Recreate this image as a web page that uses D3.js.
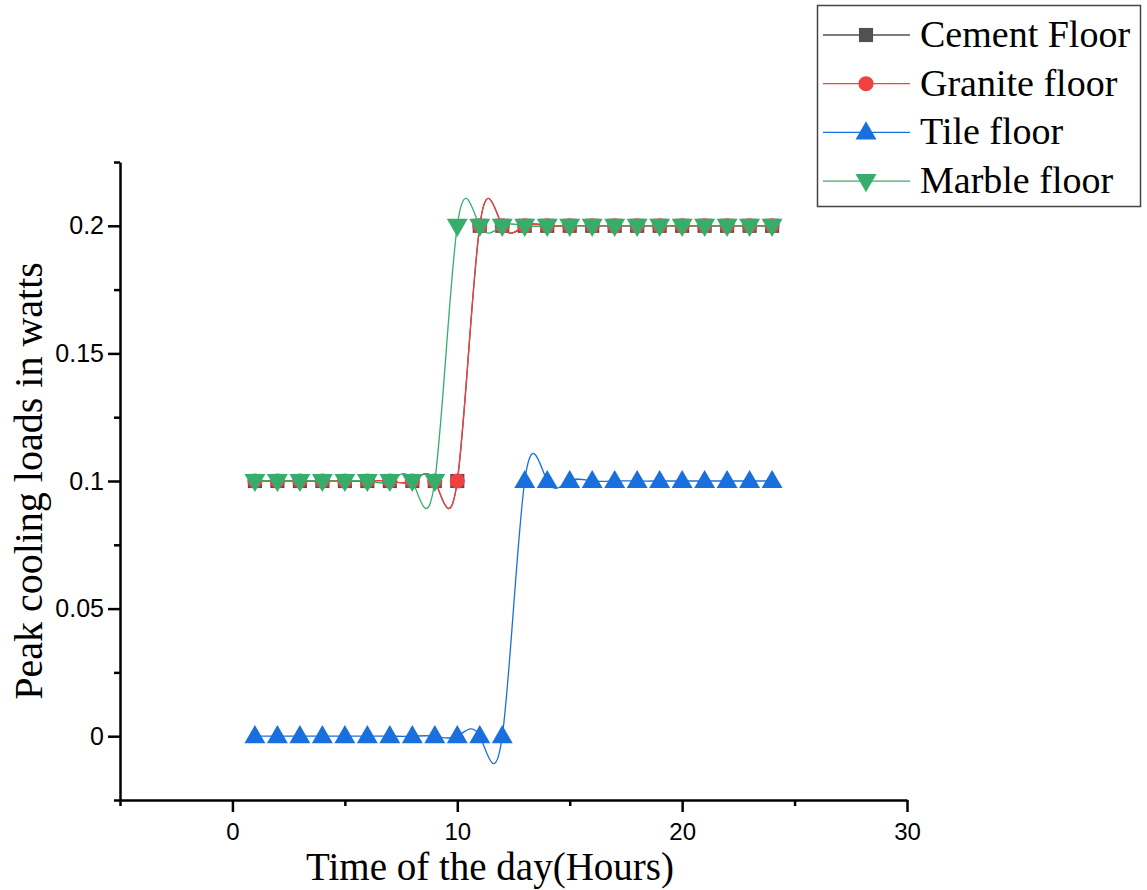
<!DOCTYPE html>
<html>
<head>
<meta charset="utf-8">
<script src="https://cdn.jsdelivr.net/npm/d3@7"></script>
<style>
  body { margin: 0; background: #fff; }
  svg { display: block; }
</style>
</head>
<body>
<div id="chart"></div>
<script>
// hours of the day
const hours = d3.range(1, 25);

const cementFloor  = [0.1, 0.1, 0.1, 0.1, 0.1, 0.1, 0.1, 0.1, 0.1, 0.1, 0.2, 0.2, 0.2, 0.2, 0.2, 0.2, 0.2, 0.2, 0.2, 0.2, 0.2, 0.2, 0.2, 0.2];
const graniteFloor = [0.1, 0.1, 0.1, 0.1, 0.1, 0.1, 0.1, 0.1, 0.1, 0.1, 0.2, 0.2, 0.2, 0.2, 0.2, 0.2, 0.2, 0.2, 0.2, 0.2, 0.2, 0.2, 0.2, 0.2];
const tileFloor    = [0, 0, 0, 0, 0, 0, 0, 0, 0, 0, 0, 0, 0.1, 0.1, 0.1, 0.1, 0.1, 0.1, 0.1, 0.1, 0.1, 0.1, 0.1, 0.1];
const marbleFloor  = [0.1, 0.1, 0.1, 0.1, 0.1, 0.1, 0.1, 0.1, 0.1, 0.2, 0.2, 0.2, 0.2, 0.2, 0.2, 0.2, 0.2, 0.2, 0.2, 0.2, 0.2, 0.2, 0.2, 0.2];

const seriesNames = ["Cement Floor", "Granite floor", "Tile floor", "Marble floor"];
const xTicks = [0, 10, 20, 30];
const yTicks = [0, 0.05, 0.1, 0.15, 0.2];
const yTickLabels = ["0", "0.05", "0.1", "0.15", "0.2"];

const series = [
  {name: seriesNames[0], values: cementFloor,  color: "#515151", symbol: d3.symbolSquare,   size: 200, rot: 0},
  {name: seriesNames[1], values: graniteFloor, color: "#F14040", symbol: d3.symbolCircle,   size: 180, rot: 0},
  {name: seriesNames[2], values: tileFloor,    color: "#1A6FDF", symbol: d3.symbolTriangle, size: 190, rot: 0},
  {name: seriesNames[3], values: marbleFloor,  color: "#37AD6B", symbol: d3.symbolTriangle, size: 190, rot: 180}
];

const width = 1147, height = 890;

const svg = d3.select("#chart")
  .append("svg")
    .attr("width", width)
    .attr("height", height);

const x = d3.scaleLinear()
  .domain([-5, 30])
  .range([120, 907]);

const y = d3.scaleLinear()
  .domain([-0.025, 0.225])
  .range([800, 162]);

// x axis
const xAxisG = svg.append("g")
  .attr("transform", "translate(0,800)")
  .call(d3.axisBottom(x).tickValues(xTicks).tickSize(12).tickSizeOuter(0).tickFormat(d3.format("d")))
  .attr("font-size", 24)
  .attr("font-family", "Liberation Sans, Arial, sans-serif");
svg.append("g")
  .attr("transform", "translate(0,800)")
  .call(d3.axisBottom(x).tickValues([-5, 5, 15, 25]).tickSize(6).tickSizeOuter(0).tickFormat(""))
  .select(".domain").remove();
xAxisG.selectAll("text")
  .attr("dy", null)
  .attr("y", 40)
  .attr("fill", "#000");

// y axis
const yAxisG = svg.append("g")
  .attr("transform", "translate(120,0)")
  .call(d3.axisLeft(y).tickValues(yTicks).tickSize(12).tickSizeOuter(0)
    .tickFormat((d, i) => yTickLabels[i]))
  .attr("font-size", 25)
  .attr("font-family", "Liberation Sans, Arial, sans-serif");
svg.append("g")
  .attr("transform", "translate(120,0)")
  .call(d3.axisLeft(y).tickValues([-0.025, 0.025, 0.075, 0.125, 0.175, 0.225]).tickSize(6).tickSizeOuter(0).tickFormat(""))
  .select(".domain").remove();
yAxisG.selectAll("text")
  .attr("x", -16)
  .attr("fill", "#000");

svg.selectAll(".domain, .tick line")
  .attr("stroke", "#000")
  .attr("stroke-width", 2.5);

// axis titles
svg.append("text")
  .attr("x", 490)
  .attr("y", 880)
  .attr("text-anchor", "middle")
  .style("font-family", "Liberation Serif, Times New Roman, serif")
  .style("font-size", "39px")
  .text("Time of the day(Hours)");

svg.append("text")
  .attr("transform", "translate(42,481) rotate(-90)")
  .attr("text-anchor", "middle")
  .style("font-family", "Liberation Serif, Times New Roman, serif")
  .style("font-size", "40px")
  .text("Peak cooling loads in watts");

// lines and symbols
const line = d3.line()
  .x(d => x(d.x))
  .y(d => y(d.y))
  .curve(d3.curveNatural);

series.forEach(s => {
  const pts = hours.map((h, i) => ({x: h, y: s.values[i]}));
  svg.append("path")
    .datum(pts)
    .attr("fill", "none")
    .attr("stroke", s.color)
    .attr("stroke-width", 1.3)
    .attr("d", line);
  svg.append("g")
    .selectAll("path")
    .data(pts)
    .enter()
    .append("path")
      .attr("d", d3.symbol().type(s.symbol).size(s.size))
      .attr("transform", d => "translate(" + x(d.x) + "," + (y(d.y) + (s.symbol === d3.symbolTriangle ? (s.rot ? -1 : 1) : 0)) + ") rotate(" + s.rot + ")")
      .attr("fill", s.color);
});

// legend
const legend = svg.append("g");
legend.append("rect")
  .attr("x", 817.5)
  .attr("y", 5.5)
  .attr("width", 323)
  .attr("height", 201)
  .attr("fill", "#fff")
  .attr("stroke", "#444")
  .attr("stroke-width", 1.5);

series.forEach((s, i) => {
  const cy = 35 + i * 48.7;
  legend.append("line")
    .attr("x1", 823)
    .attr("x2", 910)
    .attr("y1", cy)
    .attr("y2", cy)
    .attr("stroke", s.color)
    .attr("stroke-width", 1.3);
  legend.append("path")
    .attr("d", d3.symbol().type(s.symbol).size(s.size))
    .attr("transform", "translate(866," + (cy + (s.symbol === d3.symbolTriangle ? (s.rot ? -1 : 1) : 0)) + ") rotate(" + s.rot + ")")
    .attr("fill", s.color);
  legend.append("text")
    .attr("x", 920)
    .attr("y", cy + 12)
    .style("font-family", "Liberation Serif, Times New Roman, serif")
    .style("font-size", "38px")
    .text(s.name);
});
</script>
</body>
</html>
